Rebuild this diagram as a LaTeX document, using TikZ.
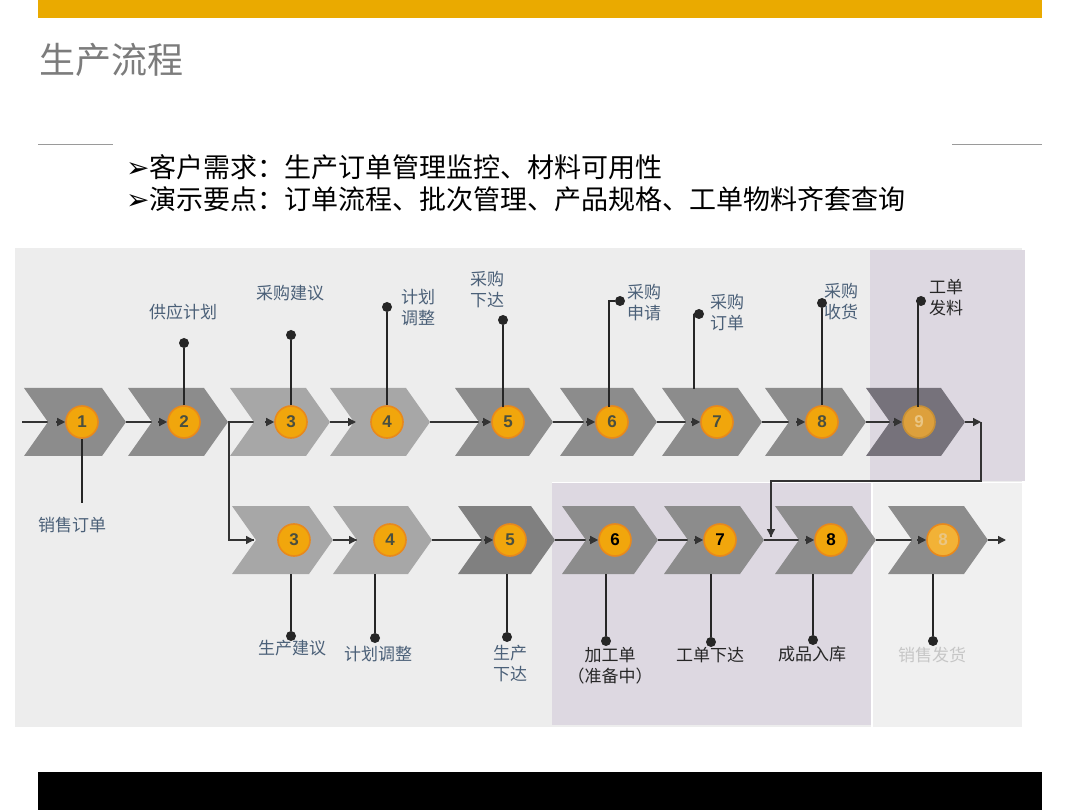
\documentclass[tikz,border=0pt]{standalone}
\usepackage{fontspec}
\setmainfont{Liberation Sans}
\newfontfamily\cjk{Noto Sans CJK SC}
\newfontfamily\dv{DejaVu Sans}
\usetikzlibrary{arrows.meta}
\definecolor{gold}{HTML}{EAAA00}
\definecolor{titlegray}{HTML}{7C7C7C}
\definecolor{sepgray}{HTML}{9A9A9A}
\definecolor{panelgray}{HTML}{EDEDED}
\definecolor{panellight}{HTML}{F0F0F0}
\definecolor{lav}{HTML}{DDD8E1}
\definecolor{chevdark}{HTML}{8C8C8C}
\definecolor{chevlight}{HTML}{A7A7A7}
\definecolor{chevnine}{HTML}{76727B}
\definecolor{chevfive}{HTML}{808080}
\definecolor{circfill}{HTML}{F1A60C}
\definecolor{circring}{HTML}{E8891C}
\definecolor{circnine}{HTML}{DDA03C}
\definecolor{circlast}{HTML}{F2B236}
\definecolor{numdark}{HTML}{4A4F3F}
\definecolor{numfade}{HTML}{EAC684}
\definecolor{slate}{HTML}{4B6078}
\definecolor{darktxt}{HTML}{262626}
\definecolor{fadetxt}{HTML}{C6C6C6}
\pgfdeclarelayer{panel}
\pgfdeclarelayer{lines}
\pgfsetlayers{panel,lines,main}
\newcommand\chevron[5]{%
  \fill[#5] (#2,#4-34) -- (#3-24,#4-34) -- (#3,#4) -- (#3-24,#4+34) -- (#2,#4+34) -- (#2+24,#4) -- cycle;
  \coordinate (#1tip) at (#3,#4);
}
\tikzset{
  circ/.style={circle, fill=circfill, draw=circring, line width=1.6pt, minimum size=32pt, inner sep=0pt,
    font=\bfseries\fontsize{17}{17}\selectfont, text=numdark},
  dotnode/.style={circle, fill=darktxt, inner sep=0pt, minimum size=10pt},
  pinline/.style={draw=darktxt, line width=1.9pt},
  conn/.style={draw=black!80, line width=1.4pt},
  arrowend/.style={conn, -{Triangle[length=8pt,width=8pt]}},
  lbl/.style={font=\cjk\fontsize{17}{21}\selectfont, text=slate, align=center, inner sep=0pt},
  lbldark/.style={lbl, text=darktxt},
  bullet/.style={font=\cjk\fontsize{27}{32}\selectfont, text=black, anchor=west, inner sep=0pt},
}
\begin{document}
\begin{tikzpicture}[x=1pt,y=-1pt]
\useasboundingbox (0,0) rectangle (1080,810);
% panels and background
\begin{pgfonlayer}{panel}
\fill[white] (0,0) rectangle (1080,810);
\fill[panelgray] (15,248) rectangle (1022,727);
\fill[lav] (870,250) rectangle (1025,481);
\fill[white] (552,481.5) rectangle (1024,483);
\fill[lav] (552,483) rectangle (871,725);
\fill[white] (871,483) rectangle (873,727);
\fill[panellight] (873,483) rectangle (1022,727);
\end{pgfonlayer}
% header
\fill[gold] (38,0) rectangle (1042,18);
\node[anchor=west, inner sep=0pt, text=titlegray, font=\cjk\fontsize{36}{40}\selectfont] (title) at (39,60) {生产流程};
\draw[sepgray, line width=1pt] (38,145) -- (113,145);
\draw[sepgray, line width=1pt] (952,145) -- (1042,145);
\node[bullet] (req) at (126,167) {{\dv\bfseries\fontsize{28}{28}\selectfont ➢}客户需求：生产订单管理监控、材料可用性};
\node[bullet] (demo) at (126,199) {{\dv\bfseries\fontsize{28}{28}\selectfont ➢}演示要点：订单流程、批次管理、产品规格、工单物料齐套查询};
% footer
\fill[black] (38,772) rectangle (1042,810);
% top row chevrons
\chevron{t1}{24}{126}{422}{chevdark}
\chevron{t2}{128}{228}{422}{chevdark}
\chevron{t3}{230}{330}{422}{chevlight}
\chevron{t4}{330}{430}{422}{chevlight}
\chevron{t5}{455}{553}{422}{chevdark}
\chevron{t6}{560}{657}{422}{chevdark}
\chevron{t7}{662}{762}{422}{chevdark}
\chevron{t8}{765}{866}{422}{chevdark}
\chevron{t9}{866}{965}{422}{chevnine}
% bottom row chevrons
\chevron{b3}{232}{333}{540}{chevlight}
\chevron{b4}{333}{432}{540}{chevlight}
\chevron{b5}{458}{555}{540}{chevfive}
\chevron{b6}{562}{658}{540}{chevdark}
\chevron{b7}{664}{764}{540}{chevdark}
\chevron{b8}{775}{876}{540}{chevdark}
\chevron{b9}{888}{988}{540}{chevdark}
% circles
\node[circ] (t1) at (82,422) {1};
\node[circ] (t2) at (184,422) {2};
\node[circ] (t3) at (291,422) {3};
\node[circ] (t4) at (387,422) {4};
\node[circ] (t5) at (508,422) {5};
\node[circ] (t6) at (612,422) {6};
\node[circ] (t7) at (717,422) {7};
\node[circ] (t8) at (822,422) {8};
\node[circ, fill=circnine, draw=circnine!90!black, text=numfade] (t9) at (919,422) {9};
\node[circ] (b3) at (294,540) {3};
\node[circ] (b4) at (390,540) {4};
\node[circ] (b5) at (510,540) {5};
\node[circ, text=black] (b6) at (615,540) {6};
\node[circ, text=black] (b7) at (720,540) {7};
\node[circ, text=black] (b8) at (831,540) {8};
\node[circ, fill=circlast, text=numfade] (b9) at (943,540) {8};
% connector coordinates
\coordinate (in) at (22,422);
\coordinate (sp) at (229,422);
\coordinate (t4in) at (356,422);
\coordinate (b3in) at (254,540);
\coordinate (b4in) at (357,540);
\coordinate (rt) at (981,422);
\coordinate (r1) at (981,481);
\coordinate (r2) at (771,481);
\coordinate (mg) at (771,537);
\coordinate (out) at (1006,540);
% connector lines (behind chevrons)
\begin{pgfonlayer}{lines}
\draw[conn] (in) -- (t1.west);
\draw[conn] (t1tip) -- (t2.west);
\draw[conn] (t2tip) -- (t3.west);
\draw[conn] (sp) |- (b3in);
\draw[conn] (t3tip) -- (t4in);
\draw[conn] (t4tip) -- (t5.west);
\draw[conn] (t5tip) -- (t6.west);
\draw[conn] (t6tip) -- (t7.west);
\draw[conn] (t7tip) -- (t8.west);
\draw[conn] (t8tip) -- (t9.west);
\draw[conn] (b3tip) -- (b4in);
\draw[conn] (b4tip) -- (b5.west);
\draw[conn] (b5tip) -- (b6.west);
\draw[conn] (b6tip) -- (b7.west);
\draw[conn] (b7tip) -- (b8.west);
\draw[conn] (b8tip) -- (b9.west);
\end{pgfonlayer}
% arrowheads (on top)
\foreach \n in {t1,t2,t3,t5,t6,t7,t8,t9,b5,b6,b7,b8,b9}
  \draw[arrowend] ([xshift=-9pt]\n.west) -- (\n.west);
\draw[arrowend] ([xshift=-9pt]t4in) -- (t4in);
\draw[arrowend] ([xshift=-9pt]b3in) -- (b3in);
\draw[arrowend] ([xshift=-9pt]b4in) -- (b4in);
\draw[arrowend] (t9tip) -- (rt);
\draw[conn] (rt) -- (r1) -- (r2) -- (r2 |- mg);
\draw[arrowend] (r2) -- (mg);
\draw[arrowend] (b9tip) -- (out);
% top pins
\coordinate (t1a) at (82,503);
\draw[pinline] (t1) -- (t1a);
\node[dotnode] (t2p) at (184,343) {};
\draw[pinline] (t2) -- (t2p);
\node[dotnode] (t3p) at (291,335) {};
\draw[pinline] (t3) -- (t3p);
\node[dotnode] (t4p) at (387,307) {};
\draw[pinline] (t4) -- (t4p);
\node[dotnode] (t5p) at (503,320) {};
\coordinate (t5a) at (503,407);
\draw[pinline] (t5a) -- (t5p);
\node[dotnode] (t6p) at (620,301) {};
\coordinate (t6a) at (609,407);
\draw[pinline] (t6a) |- (t6p);
\node[dotnode] (t7p) at (699,314) {};
\coordinate (t7a) at (694,389);
\draw[pinline] (t7a) |- (t7p);
\node[dotnode] (t8p) at (822,303) {};
\draw[pinline] (t8) -- (t8p);
\node[dotnode] (t9p) at (921,301) {};
\coordinate (t9a) at (918,407);
\draw[pinline] (t9a) -- (t9a |- t9p) -- (t9p);
% bottom pins
\foreach \n/\x/\y in {b3/291/636, b4/375/638, b5/507/637, b6/606/641, b7/711/642, b8/813/640, b9/933/641}{
  \node[dotnode] (\n p) at (\x,\y) {};
  \coordinate (\n a) at (\x,574);
  \draw[pinline] (\n a) -- (\n p);
}
% top labels
\node[lbl] (l1) at (72,525) {销售订单};
\node[lbl] (l2) at (183,312) {供应计划};
\node[lbl] (l3) at (290,293) {采购建议};
\node[lbl, anchor=west, align=left] (l4) at (401,308) {计划\\调整};
\node[lbl] (l5) at (487,290) {采购\\下达};
\node[lbl] (l6) at (644,303) {采购\\申请};
\node[lbl] (l7) at (727,313) {采购\\订单};
\node[lbl] (l8) at (841,302) {采购\\收货};
\node[lbldark] (l9) at (946,298) {工单\\发料};
% bottom labels
\node[lbl] (m3) at (292,648) {生产建议};
\node[lbl] (m4) at (378,654) {计划调整};
\node[lbl] (m5) at (510,664) {生产\\下达};
\node[lbldark] (m6) at (610,666) {加工单\\（准备中）};
\node[lbldark] (m7) at (710,655) {工单下达};
\node[lbldark] (m8) at (812,654) {成品入库};
\node[lbl, text=fadetxt] (m9) at (932,655) {销售发货};
\end{tikzpicture}
\end{document}
